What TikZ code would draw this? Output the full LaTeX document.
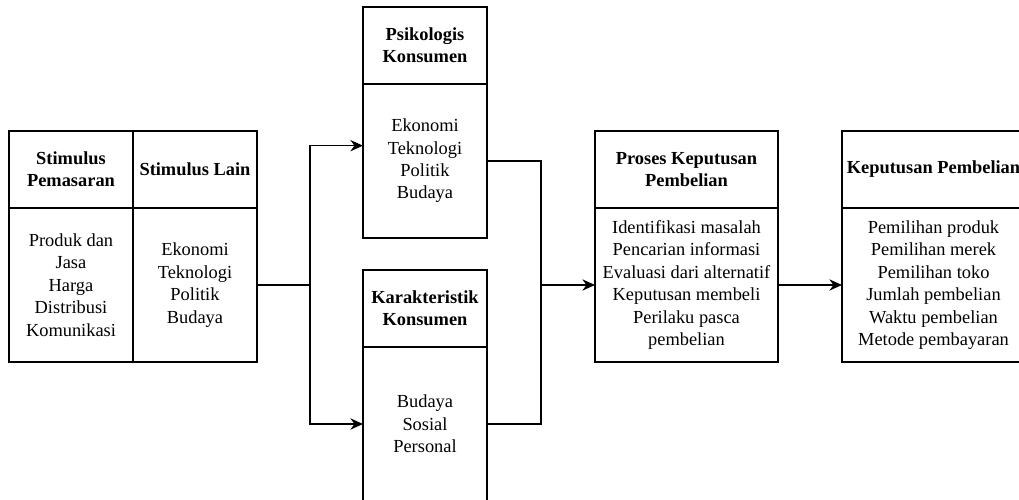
\documentclass[tikz,border=0pt]{standalone}
\usepackage{fontspec}
\setmainfont{Liberation Serif}
\usetikzlibrary{positioning,arrows.meta}

\tikzset{
  box/.style={draw, line width=0.9pt, outer sep=0pt, inner sep=1pt, align=center,
              font=\fontsize{13.8}{16.8}\selectfont},
  head/.style={box, minimum height=57.75pt, font=\bfseries\fontsize{13.8}{16.8}\selectfont},
  body/.style={box, minimum height=115.5pt},
  narrow/.style={minimum width=93pt},
  wide/.style={minimum width=137.25pt},
  link/.style={line width=0.9pt},
  arr/.style={link, -{Stealth[length=9.5pt,width=8.5pt]}}
}

\begin{document}
\begin{tikzpicture}[x=0.75pt, y=-0.75pt]
\useasboundingbox (0,0) rectangle (1019,499);
\clip (0,0) rectangle (1019,499);
\node[head, narrow, anchor=north west] (pemHead) at (9,131) {Stimulus\\Pemasaran};
\node[head, narrow, right=0pt of pemHead] (lainHead) {Stimulus Lain};
\node[body, narrow, below=0pt of pemHead] (pemBody) {Produk dan\\Jasa\\Harga\\Distribusi\\Komunikasi};
\node[body, narrow, below=0pt of lainHead] (lainBody) {Ekonomi\\Teknologi\\Politik\\Budaya};

\node[head, narrow, anchor=north west] (psiHead) at (363,7) {Psikologis\\Konsumen};
\node[body, narrow, below=0pt of psiHead] (psiBody) {Ekonomi\\Teknologi\\Politik\\Budaya};
\node[head, narrow, anchor=north west] (karHead) at (363,270) {Karakteristik\\Konsumen};
\node[body, narrow, below=0pt of karHead] (karBody) {Budaya\\Sosial\\Personal};

\node[head, wide, anchor=north west] (prosHead) at (595,131) {Proses Keputusan\\Pembelian};
\node[body, wide, below=0pt of prosHead] (prosBody) {Identifikasi masalah\\Pencarian informasi\\Evaluasi dari alternatif\\Keputusan membeli\\Perilaku pasca\\pembelian};
\node[head, wide, anchor=north west] (kepHead) at (842,131) {Keputusan Pembelian};
\node[body, wide, below=0pt of kepHead] (kepBody) {Pemilihan produk\\Pemilihan merek\\Pemilihan toko\\Jumlah pembelian\\Waktu pembelian\\Metode pembayaran};

\coordinate (split) at (310,285);
\coordinate (join) at (541,285);
\draw[link] (lainBody.east) -- (split);
\draw[arr] (split) |- ([yshift=11.5pt]psiBody.west);
\draw[arr] (split) |- (karBody.west);
\draw[link] (psiBody.east) -| (join);
\draw[link] (karBody.east) -| (join);
\draw[arr] (join) -- (prosBody.west);
\draw[arr] (prosBody.east) -- (kepBody.west);
\end{tikzpicture}
\end{document}
